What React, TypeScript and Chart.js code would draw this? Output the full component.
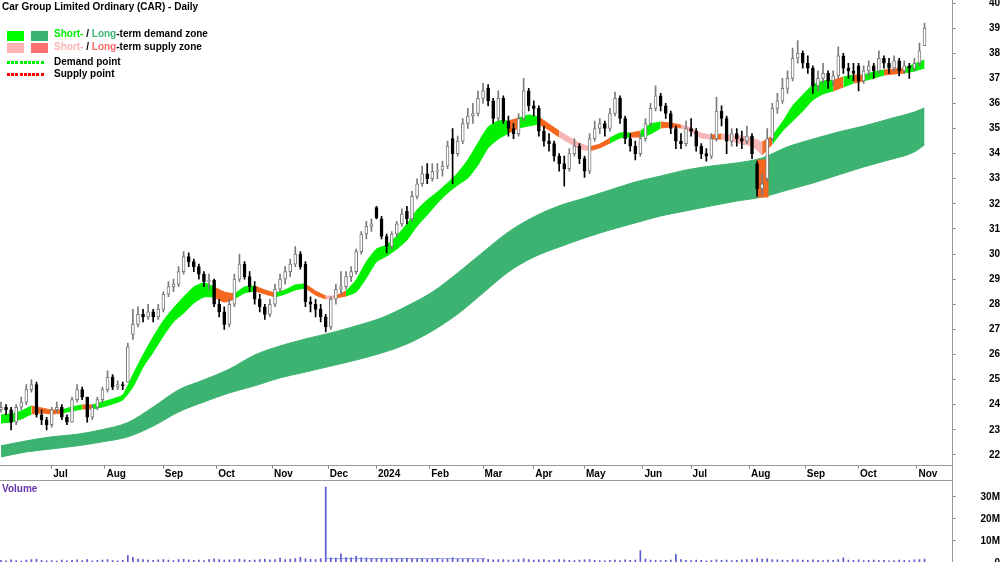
import React, { useEffect, useRef } from "react";
import { Chart, registerables } from "chart.js";
Chart.register(...registerables);

const FONT_FAMILY = "'Liberation Sans', Arial, Helvetica, sans-serif";
const TITLE = "Car Group Limited Ordinary (CAR) - Daily";

// x axis = trading-day index (0 = first session shown)
const MONTH_IDX = [20, 41, 64, 85, 107, 129, 148, 169, 190, 210, 230, 253, 272, 295, 317, 338, 361];
const MONTH_LABELS = ["Jul", "Aug", "Sep", "Oct", "Nov", "Dec", "2024", "Feb", "Mar", "Apr", "May", "Jun", "Jul", "Aug", "Sep", "Oct", "Nov"];
const PRICE_TICKS = [22, 23, 24, 25, 26, 27, 28, 29, 30, 31, 32, 33, 34, 35, 36, 37, 38, 39, 40];
const VOL_TICKS = [0, 10, 20, 30];
const VOL_TICK_LABELS = ["0", "10M", "20M", "30M"];

// one candle every 2 trading days
const CANDLE_STEP = 2;
const OPEN = [
  23.8, 23.9, 23.8, 23.3, 23.9, 24.1, 24.6, 24.8, 23.6, 23.4,
  23.2, 23.8, 23.9, 23.5, 23.3, 24.2, 24.6, 24.3, 23.5, 23.9,
  24.2, 24.6, 25.1, 24.7, 24.8, 24.9, 26.8, 27.2, 27.6, 27.5,
  27.7, 27.5, 27.8, 28.4, 28.7, 28.8, 29.3, 29.9, 29.7, 29.5,
  29.2, 28.9, 28.95, 28.0, 27.7, 27.2, 28.0, 29.0, 29.6, 29.1,
  28.7, 28.2, 27.9, 27.6, 28.0, 28.6, 29.0, 29.3, 29.6, 30.0,
  29.6, 28.1, 28.0, 27.8, 27.5, 27.1, 28.2, 28.6, 28.7, 29.1,
  29.3, 30.1, 30.8, 31.1, 31.85, 31.4, 30.7, 30.3, 30.8, 31.2,
  31.7, 31.4, 32.3, 32.8, 33.2, 33.0, 33.3, 33.35, 33.5, 34.6,
  34.0, 34.5, 35.2, 35.5, 35.6, 36.2, 36.6, 36.1, 35.4, 36.2,
  35.3, 35.0, 34.8, 35.4, 36.5, 35.9, 35.8, 34.9, 34.5, 34.4,
  33.9, 33.6, 33.4, 34.0, 34.3, 33.8, 33.3, 34.6, 35.0, 35.2,
  35.0, 35.6, 36.2, 35.4, 34.6, 34.3, 34.0, 34.6, 35.2, 35.8,
  36.3, 35.9, 35.6, 35.0, 34.5, 34.4, 35.0, 34.9, 34.3, 34.0,
  33.9, 34.6, 35.7, 35.4, 34.5, 34.8, 34.6, 34.5, 34.7, 33.6,
  32.6, 33.0, 34.6, 35.8, 36.1, 36.6, 37.0, 37.8, 38.0, 37.6,
  37.4, 36.7, 37.0, 37.2, 36.9, 37.1, 37.9, 37.4, 37.3, 37.5,
  36.9, 37.3, 37.5, 37.3, 37.8, 37.6, 37.4, 37.7, 37.3, 37.5,
  37.4, 37.6, 38.3,
];
const HIGH = [
  24.1, 24.0, 23.9, 24.0, 24.3, 24.8, 25.0, 24.9, 23.8, 23.5,
  23.9, 24.1, 24.0, 23.6, 24.3, 24.8, 24.7, 24.3, 24.0, 24.3,
  24.7, 25.35, 25.2, 24.95, 24.9, 26.45, 27.8, 27.9, 27.8, 28.0,
  27.8, 28.0, 28.5, 28.9, 29.0, 29.5, 30.1, 30.05, 29.8, 29.6,
  29.3, 29.2, 29.0, 28.2, 27.9, 28.2, 29.2, 30.0, 29.7, 29.3,
  28.9, 28.4, 28.0, 28.2, 28.8, 29.2, 29.5, 29.8, 30.3, 30.1,
  29.7, 28.3, 28.2, 28.0, 27.6, 28.3, 28.8, 29.3, 29.3, 29.5,
  30.2, 30.9, 31.3, 31.4, 31.9, 31.5, 30.8, 30.9, 31.3, 31.8,
  31.9, 32.5, 33.0, 33.5, 33.6, 33.6, 33.6, 33.7, 34.5, 35.0,
  34.7, 35.4, 35.8, 36.0, 36.5, 36.8, 36.75, 36.2, 36.5, 36.3,
  35.5, 35.2, 35.6, 37.0, 36.6, 36.1, 35.9, 35.1, 34.8, 34.5,
  34.0, 33.9, 34.2, 34.6, 34.4, 33.9, 34.8, 35.3, 35.4, 35.3,
  35.8, 36.45, 36.3, 35.5, 34.8, 34.5, 34.8, 35.4, 36.0, 36.7,
  36.4, 36.0, 35.7, 35.1, 34.8, 35.3, 35.4, 35.0, 34.4, 34.2,
  34.8, 36.25, 35.9, 35.5, 35.0, 35.0, 34.9, 35.1, 34.8, 33.7,
  33.2, 35.0, 36.0, 36.4, 37.0, 37.3, 38.2, 38.5, 38.1, 37.9,
  37.5, 37.3, 37.6, 37.3, 37.3, 38.25, 38.0, 37.6, 37.6, 37.6,
  37.5, 37.7, 37.6, 38.1, 37.9, 37.8, 37.9, 37.8, 37.7, 37.6,
  37.8, 38.4, 39.2,
];
const LOW = [
  23.7, 23.6, 23.0, 23.2, 23.8, 24.0, 24.5, 23.5, 23.2, 23.0,
  23.1, 23.7, 23.4, 23.2, 23.3, 24.1, 24.2, 23.3, 23.4, 23.8,
  24.1, 24.5, 24.6, 24.6, 24.6, 24.9, 26.6, 27.1, 27.3, 27.4,
  27.3, 27.4, 27.7, 28.3, 28.5, 28.7, 29.2, 29.5, 29.3, 29.0,
  28.7, 28.6, 27.9, 27.5, 27.0, 27.1, 27.9, 28.9, 29.0, 28.5,
  28.0, 27.7, 27.4, 27.5, 27.9, 28.5, 28.8, 29.1, 29.5, 29.4,
  27.9, 27.7, 27.5, 27.3, 26.9, 27.0, 28.0, 28.4, 28.6, 28.9,
  29.2, 30.0, 30.6, 30.9, 31.4, 30.6, 30.05, 30.2, 30.7, 31.1,
  31.2, 31.3, 32.2, 32.7, 32.8, 32.9, 33.0, 33.1, 33.4, 32.8,
  33.9, 34.4, 35.0, 35.2, 35.5, 36.0, 35.9, 35.2, 35.3, 35.2,
  34.7, 34.6, 34.7, 35.3, 35.7, 35.5, 34.7, 34.3, 34.1, 33.7,
  33.3, 32.7, 33.3, 33.9, 33.6, 33.05, 33.2, 34.5, 34.8, 34.7,
  34.9, 35.5, 35.2, 34.4, 34.1, 33.75, 33.9, 34.5, 35.1, 35.7,
  35.7, 35.4, 34.8, 34.2, 34.2, 34.3, 34.7, 34.1, 33.8, 33.7,
  33.8, 34.5, 35.1, 34.0, 34.3, 34.3, 34.2, 34.4, 33.8, 32.3,
  32.35, 32.9, 34.5, 35.6, 36.0, 36.4, 36.9, 37.6, 37.4, 37.2,
  36.4, 36.5, 36.8, 36.6, 36.7, 37.0, 37.2, 37.0, 36.9, 36.5,
  36.8, 37.1, 37.0, 37.2, 37.4, 37.2, 37.3, 37.1, 37.2, 37.0,
  37.3, 37.5, 38.3,
];
const CLOSE = [
  23.9, 23.8, 23.3, 23.9, 24.1, 24.6, 24.8, 23.6, 23.4, 23.2,
  23.8, 23.9, 23.5, 23.3, 24.2, 24.6, 24.3, 23.5, 23.9, 24.2,
  24.6, 25.1, 24.7, 24.8, 24.75, 26.3, 27.2, 27.6, 27.5, 27.7,
  27.5, 27.8, 28.4, 28.7, 28.8, 29.3, 29.9, 29.7, 29.5, 29.2,
  28.9, 28.95, 28.0, 27.7, 27.2, 28.0, 29.0, 29.6, 29.1, 28.7,
  28.2, 27.9, 27.6, 28.0, 28.6, 29.0, 29.3, 29.6, 30.0, 29.5,
  28.1, 28.0, 27.8, 27.5, 27.1, 28.2, 28.6, 28.7, 29.1, 29.3,
  30.1, 30.8, 31.1, 31.2, 31.45, 30.7, 30.3, 30.8, 31.2, 31.6,
  31.4, 32.3, 32.8, 33.2, 33.0, 33.3, 33.35, 33.5, 34.3, 34.0,
  34.5, 35.2, 35.5, 35.6, 36.2, 36.5, 36.1, 35.4, 36.2, 35.3,
  35.0, 34.8, 35.4, 36.5, 35.9, 35.8, 34.9, 34.5, 34.4, 33.9,
  33.6, 33.4, 34.0, 34.3, 33.8, 33.3, 34.6, 35.0, 35.2, 35.0,
  35.6, 36.2, 35.4, 34.6, 34.3, 34.0, 34.6, 35.2, 35.8, 36.3,
  35.9, 35.6, 35.0, 34.5, 34.4, 35.0, 34.9, 34.3, 34.0, 33.9,
  34.6, 35.7, 35.4, 34.5, 34.8, 34.6, 34.5, 34.7, 34.0, 32.6,
  32.8, 34.6, 35.8, 36.1, 36.6, 37.0, 37.8, 38.0, 37.6, 37.4,
  36.7, 37.0, 37.2, 36.9, 37.1, 37.9, 37.4, 37.3, 37.2, 36.9,
  37.3, 37.5, 37.3, 37.8, 37.6, 37.4, 37.7, 37.3, 37.5, 37.4,
  37.6, 38.1, 39.0,
];
// volume in millions, one value per candle
const VOLUME = [
  1.2, 1.0, 1.4, 1.1, 0.9, 1.3, 1.5, 1.8, 1.2, 1.0,
  1.1, 0.9, 1.3, 1.0, 1.2, 1.4, 1.1, 1.6, 1.0, 1.2,
  1.3, 1.5, 1.1, 1.0, 1.2, 3.4, 2.6, 1.8, 1.5, 1.3,
  1.2, 1.4, 1.6, 1.3, 1.1, 1.5, 1.7, 1.4, 1.2, 1.3,
  1.1, 1.6, 1.9, 1.5, 1.3, 1.4, 1.6, 1.8, 1.4, 1.2,
  1.3, 1.5, 1.7, 1.4, 1.5, 2.2, 1.6, 1.8, 2.0, 2.6,
  1.9, 1.7, 1.6, 2.0, 34.5, 2.4, 2.2, 4.2, 2.5, 2.3,
  3.1, 2.4, 2.2, 2.0, 1.9, 2.1, 1.8, 2.2, 2.0, 1.9,
  2.1, 1.8, 1.9, 2.0, 1.7, 1.8, 2.1, 1.6, 1.9, 2.4,
  1.8, 1.7, 1.9, 1.6, 1.5, 1.8, 1.7, 1.4, 1.6, 1.5,
  1.3, 1.4, 1.6, 1.9, 1.5, 1.3, 1.4, 1.6, 1.2, 1.3,
  1.5, 1.4, 1.2, 1.1, 1.3, 1.4, 1.6, 1.2, 1.1, 1.0,
  1.2, 1.3, 1.1, 1.4, 1.2, 1.3, 5.6, 1.8, 1.3, 1.2,
  1.1, 1.2, 1.3, 3.9, 1.5, 1.2, 1.1, 1.3, 1.2, 1.0,
  1.1, 1.4, 1.2, 1.3, 1.1, 1.2, 1.4, 1.5, 1.6, 2.0,
  1.8, 1.9, 1.6, 1.4, 1.3, 1.2, 1.5, 1.4, 1.3, 1.2,
  1.4, 1.2, 1.1, 1.3, 1.2, 1.5, 2.4, 1.3, 1.2, 1.4,
  1.1, 1.2, 1.3, 1.1, 1.2, 1.0, 1.1, 1.3, 1.2, 1.1,
  1.4, 1.6, 1.8,
];
// elevated volume average after the late-November spike
const VOL_AVG_X = [128, 180, 191];
const VOL_AVG = [3.0, 2.0, 2.0];

// short-term zone, one point every 4 trading days
const ST_STEP = 4;
const ST_UPPER = [
  23.59, 23.63, 23.75, 23.95, 23.87, 23.79, 23.79, 23.91, 23.99, 23.99,
  24.11, 24.23, 24.39, 25.19, 25.98, 26.70, 27.34, 27.85, 28.29, 28.69,
  28.85, 28.69, 28.49, 28.41, 28.69, 28.73, 28.57, 28.45, 28.57, 28.77,
  28.81, 28.53, 28.33, 28.33, 28.53, 28.97, 29.69, 30.20, 30.36, 30.72,
  31.20, 31.76, 32.15, 32.47, 32.83, 33.23, 33.75, 34.42, 35.06, 35.30,
  35.30, 35.42, 35.54, 35.46, 35.18, 34.90, 34.66, 34.42, 34.27, 34.38,
  34.62, 34.82, 34.82, 34.90, 35.18, 35.26, 35.22, 35.14, 35.02, 34.82,
  34.74, 34.78, 34.74, 34.70, 34.62, 34.46, 34.70, 35.26, 35.90, 36.34,
  36.73, 36.89, 36.93, 37.05, 37.13, 37.13, 37.25, 37.33, 37.37, 37.41,
  37.57, 37.73,
];
const ST_LOWER = [
  23.27, 23.31, 23.43, 23.63, 23.67, 23.63, 23.67, 23.75, 23.83, 23.83,
  23.91, 24.03, 24.19, 24.71, 25.50, 26.10, 26.74, 27.30, 27.65, 28.05,
  28.29, 28.29, 28.09, 28.21, 28.45, 28.53, 28.41, 28.29, 28.41, 28.57,
  28.65, 28.37, 28.21, 28.25, 28.33, 28.49, 29.05, 29.69, 29.92, 30.20,
  30.56, 31.12, 31.56, 32.03, 32.43, 32.75, 33.03, 33.55, 34.23, 34.58,
  34.82, 35.02, 35.10, 35.18, 34.94, 34.66, 34.42, 34.19, 34.11, 34.23,
  34.42, 34.62, 34.66, 34.66, 34.78, 35.02, 35.06, 35.02, 34.86, 34.62,
  34.58, 34.58, 34.50, 34.38, 34.30, 33.95, 34.38, 34.90, 35.30, 35.70,
  36.14, 36.38, 36.50, 36.65, 36.81, 36.89, 37.01, 37.13, 37.17, 37.21,
  37.29, 37.41,
];
// regime of each segment between consecutive zone points: G demand, O supply (orange), P weak supply (pink)
const ST_REGIME = (
  "GGGOOOGGOG" + "GGGGGGGGGG" + "GOOGGOOGGG" + "OOPOGGGGGG" + "GGGGGGGGGG" +
  "OGGOOPPPOO" + "GGOGGOOPPP" + "OPPPPOGGGG" + "GGOGOGGOOG" + "G"
).split("");

// long-term zone
const LT_X = [0, 10, 20, 30, 40, 50, 60, 70, 80, 90, 100, 110, 120, 130, 140, 150, 160, 170, 180, 190,
  200, 210, 220, 230, 240, 250, 260, 270, 280, 290, 300, 310, 320, 330, 340, 350, 360, 364];
const LT_UPPER = [22.36, 22.56, 22.72, 22.82, 23.01, 23.29, 23.91, 24.59, 24.99, 25.42, 25.98, 26.34, 26.62,
  26.86, 27.14, 27.46, 27.93, 28.49, 29.25, 30.08, 30.88, 31.48, 31.92, 32.23, 32.55, 32.87, 33.11, 33.35,
  33.51, 33.63, 33.83, 34.27, 34.58, 34.86, 35.10, 35.38, 35.66, 35.82];
const LT_LOWER = [21.92, 22.12, 22.24, 22.36, 22.52, 22.72, 23.15, 23.71, 24.11, 24.47, 24.75, 25.07, 25.30,
  25.54, 25.78, 26.06, 26.42, 26.94, 27.61, 28.45, 29.29, 29.88, 30.28, 30.64, 30.96, 31.24, 31.52, 31.72,
  31.92, 32.11, 32.27, 32.55, 32.83, 33.15, 33.47, 33.75, 34.07, 34.35];
// long-term supply block (Aug 2024)
const LT_SUPPLY_X = [300.2];
const LT_SUPPLY_LOW = [32.27];
const LT_SUPPLY_HIGH = [33.75];

const C_ST_DEMAND = "#00f000";
const C_LT_DEMAND = "#3cb371";
const C_ORANGE = "#f5661e";
const C_PINK = "#f7b5b5";
const ZONE_COLORS: Record<string, string> = { G: C_ST_DEMAND, O: C_ORANGE, P: C_PINK };

const X_MIN = -0.38;
const X_MAX = 375.1;

export default function App() {
  const priceRef = useRef<HTMLCanvasElement>(null);
  const volRef = useRef<HTMLCanvasElement>(null);

  useEffect(() => {
    document.body.style.margin = "0";
    document.body.style.overflow = "hidden";
    const font = { family: FONT_FAMILY, size: 10, weight: "bold" as const };

    const datasets: any[] = [];
    const lineBase = { type: "line", pointRadius: 0, pointHoverRadius: 0, borderWidth: 1 };

    // long-term zone
    datasets.push({
      ...lineBase, data: LT_X.map((x, i) => ({ x, y: LT_UPPER[i] })),
      borderColor: C_LT_DEMAND, backgroundColor: C_LT_DEMAND, fill: "+1",
      cubicInterpolationMode: "monotone", order: 10,
    });
    datasets.push({
      ...lineBase, data: LT_X.map((x, i) => ({ x, y: LT_LOWER[i] })),
      borderColor: C_LT_DEMAND, fill: false, cubicInterpolationMode: "monotone", order: 10,
    });

    // short-term zone, split into runs of equal regime
    let s = 0;
    while (s < ST_REGIME.length) {
      let e = s;
      while (e + 1 < ST_REGIME.length && ST_REGIME[e + 1] === ST_REGIME[s]) e++;
      const idx: number[] = [];
      for (let j = s; j <= e + 1; j++) idx.push(j);
      const col = ZONE_COLORS[ST_REGIME[s]];
      datasets.push({
        ...lineBase, data: idx.map((j) => ({ x: j * ST_STEP, y: ST_UPPER[j] })),
        borderColor: col, backgroundColor: col, fill: "+1", tension: 0.2, order: 8,
      });
      datasets.push({
        ...lineBase, data: idx.map((j) => ({ x: j * ST_STEP, y: ST_LOWER[j] })),
        borderColor: col, fill: false, tension: 0.2, order: 8,
      });
      s = e + 1;
    }

    // long-term supply block
    datasets.push({
      type: "bar", data: LT_SUPPLY_X.map((x, i) => ({ x, y: [LT_SUPPLY_LOW[i], LT_SUPPLY_HIGH[i]] })),
      backgroundColor: C_ORANGE, barThickness: 11, grouped: false, borderWidth: 0, order: 9,
    });

    const up = CLOSE.map((c, k) => c >= OPEN[k]);
    // wicks
    datasets.push({
      type: "bar", data: CLOSE.map((_, k) => ({ x: k * CANDLE_STEP, y: [LOW[k], HIGH[k]] })),
      backgroundColor: up.map((u) => (u ? "#7a7a7a" : "#000000")),
      barThickness: 1, grouped: false, borderWidth: 0, order: 2,
    });
    // bodies
    datasets.push({
      type: "bar", data: CLOSE.map((c, k) => ({ x: k * CANDLE_STEP, y: [OPEN[k], c] })),
      backgroundColor: up.map((u) => (u ? "#ffffff" : "#000000")),
      borderColor: up.map((u) => (u ? "#7a7a7a" : "#000000")),
      borderWidth: 1, borderSkipped: false, barThickness: 3, grouped: false, order: 1,
    });

    const price = new Chart(priceRef.current!, {
      type: "bar",
      data: { datasets },
      options: {
        animation: false, responsive: false, maintainAspectRatio: false, events: [],
        layout: { padding: 0 },
        plugins: { legend: { display: false }, tooltip: { enabled: false } },
        scales: {
          x: {
            type: "linear", min: X_MIN, max: X_MAX, offset: false,
            afterBuildTicks: (sc: any) => { sc.ticks = MONTH_IDX.map((v) => ({ value: v })); },
            afterFit: (sc: any) => { sc.height = 14.3; sc.paddingLeft = 0; sc.paddingRight = 0; },
            ticks: {
              autoSkip: false, maxRotation: 0, minRotation: 0, align: "start", padding: 0, labelOffset: 1.5,
              color: "#000", font, callback: (_v: any, i: number) => MONTH_LABELS[i] ?? "",
            },
            grid: { drawOnChartArea: false, drawTicks: true, tickLength: 3, color: "#888", offset: false },
            border: { display: true, color: "#999" },
          },
          y: {
            type: "linear", position: "right", min: 21.57, max: 40.12, beginAtZero: false,
            afterBuildTicks: (sc: any) => { sc.ticks = PRICE_TICKS.map((v) => ({ value: v })); },
            afterFit: (sc: any) => { sc.width = 47.3; sc.paddingTop = 0; sc.paddingBottom = 0; },
            ticks: { crossAlign: "far", padding: 31, color: "#000", font, callback: (v: any) => String(v) },
            grid: { drawOnChartArea: false, drawTicks: true, tickLength: 3, color: "#888" },
            border: { display: true, color: "#999" },
          },
        },
      } as any,
    });

    const vol = new Chart(volRef.current!, {
      type: "bar",
      data: {
        datasets: [
          {
            type: "line", data: VOL_AVG_X.map((x, i) => ({ x, y: VOL_AVG[i] })), stepped: "after",
            borderColor: "rgba(150,150,230,0.9)", borderWidth: 1, pointRadius: 0, fill: false, order: 2,
          } as any,
          {
            type: "bar", data: VOLUME.map((v, k) => ({ x: k * CANDLE_STEP, y: v })),
            backgroundColor: "#5a5ad2", barThickness: 1, grouped: false, borderWidth: 0, order: 1,
          } as any,
        ],
      },
      options: {
        animation: false, responsive: false, maintainAspectRatio: false, events: [],
        layout: { padding: 0 },
        plugins: { legend: { display: false }, tooltip: { enabled: false } },
        scales: {
          x: { type: "linear", min: X_MIN, max: X_MAX, offset: false, display: false },
          y: {
            type: "linear", position: "right", min: 0, max: 38.18,
            afterBuildTicks: (sc: any) => { sc.ticks = VOL_TICKS.map((v) => ({ value: v })); },
            afterFit: (sc: any) => { sc.width = 47.3; sc.paddingTop = 0; sc.paddingBottom = 0; },
            ticks: { crossAlign: "far", padding: 24, color: "#000", font, callback: (_v: any, i: number) => VOL_TICK_LABELS[i] },
            grid: { drawOnChartArea: false, drawTicks: true, tickLength: 3, color: "#888" },
            border: { display: true, color: "#999" },
          },
        },
      } as any,
    });

    return () => { price.destroy(); vol.destroy(); };
  }, []);

  const txt: React.CSSProperties = {
    position: "absolute", font: `bold 10px ${FONT_FAMILY}`, lineHeight: "10px",
    whiteSpace: "nowrap", color: "#000",
  };
  const box = (left: number, top: number, bg: string): React.CSSProperties => ({
    position: "absolute", left, top, width: 17, height: 10, background: bg,
  });
  const dots = (top: number, col: string): React.CSSProperties => ({
    position: "absolute", left: 7, top, width: 38, height: 3,
    background: `repeating-linear-gradient(90deg, ${col} 0 3px, transparent 3px 4.2px)`,
  });

  return (
    <div style={{ position: "relative", width: 1000, height: 562, overflow: "hidden", background: "#fff" }}>
      <canvas ref={priceRef} width={1000} height={480}
        style={{ position: "absolute", left: 0, top: 0, width: 1000, height: 480 }} />
      <canvas ref={volRef} width={1000} height={84}
        style={{ position: "absolute", left: 0, top: 479, width: 1000, height: 84 }} />
      <div style={{ position: "absolute", left: 0, top: 480, width: 953, height: 1, background: "#999" }} />
      <div style={{ position: "absolute", left: 952, top: 465, width: 1, height: 16, background: "#999" }} />

      <div style={{ ...txt, left: 2, top: 2 }}>{TITLE}</div>

      <div style={box(7, 31, "#00ff00")} />
      <div style={box(31, 31, C_LT_DEMAND)} />
      <div style={{ ...txt, left: 54, top: 29.4 }}>
        <span style={{ color: "#00ee00" }}>Short-</span> / <span style={{ color: C_LT_DEMAND }}>Long</span>-term demand zone
      </div>

      <div style={box(7, 43, "#ffb3b3")} />
      <div style={box(31, 43, "#ff7070")} />
      <div style={{ ...txt, left: 54, top: 42 }}>
        <span style={{ color: "#ffb3b3" }}>Short-</span> / <span style={{ color: "#ff6b6b" }}>Long</span>-term supply zone
      </div>

      <div style={dots(61, "#00ee00")} />
      <div style={{ ...txt, left: 54, top: 57 }}>Demand point</div>
      <div style={dots(73, "#ff0000")} />
      <div style={{ ...txt, left: 54, top: 69.4 }}>Supply point</div>

      <div style={{ ...txt, left: 2, top: 484.2, color: "#6633aa" }}>Volume</div>
    </div>
  );
}
